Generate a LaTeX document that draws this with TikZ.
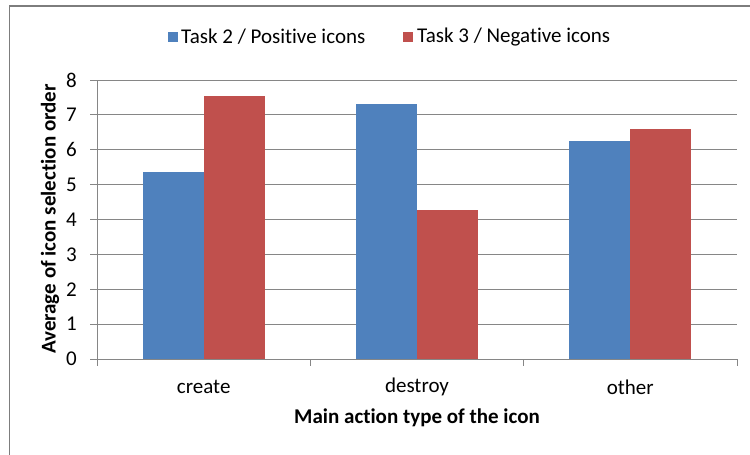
\documentclass[tikz,border=0pt]{standalone}
\usepackage{fontspec}
\setmainfont{Carlito}[Ligatures=NoCommon]
\definecolor{barblue}{RGB}{79,129,189}
\definecolor{barred}{RGB}{192,80,77}
\definecolor{gridgray}{RGB}{134,134,134}
\definecolor{framegray}{RGB}{125,125,125}

\begin{document}
\begin{tikzpicture}[x=1pt,y=-1pt,
  gridline/.style={draw=gridgray,line width=0.9pt},
  axisline/.style={draw=gridgray,line width=0.9pt},
  ticklabel/.style={font=\fontsize{21}{25}\selectfont,inner sep=0pt},
  catlabel/.style={font=\fontsize{21}{25}\selectfont,inner sep=0pt},
  axistitle/.style={font=\fontsize{21}{25}\selectfont\bfseries,inner sep=0pt},
  legendtext/.style={font=\fontsize{21}{25}\selectfont,inner sep=0pt,anchor=west},
  bluebar/.style={fill=barblue},
  redbar/.style={fill=barred}]
\useasboundingbox (0,0) rectangle (750,455);
\fill[white] (0,0) rectangle (750,455);

% chart frame (only top and left edges fall inside the page)
\draw[framegray,line width=1.3pt] (9.5,456) -- (9.5,6) -- (751,6);

% horizontal gridlines
\foreach \v in {1,...,8}
  \draw[gridline] (97,{359-34.875*\v}) -- (737,{359-34.875*\v});

% bars: blue = task 2, red = task 3
\foreach \i/\b/\r in {0/5.36/7.54, 1/7.31/4.27, 2/6.25/6.59}{
  \fill[bluebar] ({97+213.33*\i+45.7},359) rectangle ({97+213.33*\i+106.67},{359-34.875*\b});
  \fill[redbar]  ({97+213.33*\i+106.67},359) rectangle ({97+213.33*\i+167.6},{359-34.875*\r});
}

% axes and ticks
\coordinate (origin) at (97,359);
\coordinate (ytop) at (97,80);
\coordinate (xend) at (737,359);
\draw[axisline] (ytop) -- (origin) -- (xend);
\foreach \v in {0,...,8}{
  \draw[axisline] (90,{359-34.875*\v}) -- (97,{359-34.875*\v});
  \node[ticklabel,anchor=east] (yl\v) at (77,{359-34.875*\v}) {\v};
}
\foreach \k in {0,...,3}
  \draw[axisline] ({97+213.33*\k},359) -- ({97+213.33*\k},366);

% category labels
\node[catlabel] (ccreate) at (203.7,387) {create};
\node[catlabel] (cdestroy) at (417,387) {destroy};
\node[catlabel] (cother) at (630.3,387) {other};

% axis titles
\node[axistitle] (xtitle) at (417,418) {Main action type of the icon};
\node[axistitle,rotate=90] (ytitle) at (50,219) {Average of icon selection order};

% legend
\fill[barblue] (168,32) rectangle (178,42);
\node[legendtext] (leg1) at (181,37) {Task 2 / Positive icons};
\fill[barred] (403,32) rectangle (413,42);
\node[legendtext] (leg2) at (417,37) {Task 3 / Negative icons};
\end{tikzpicture}
\end{document}
